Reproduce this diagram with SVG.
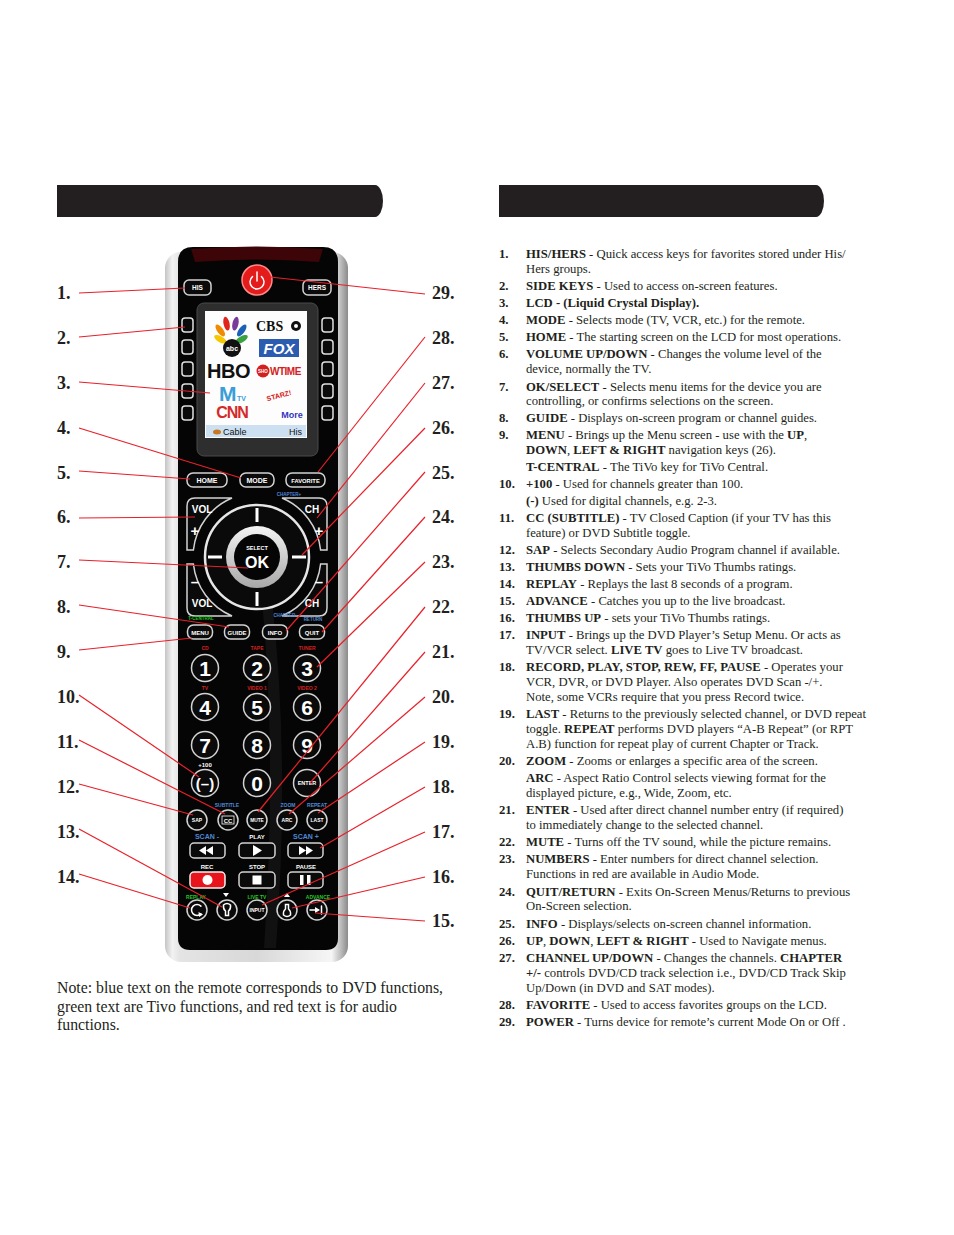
<svg xmlns="http://www.w3.org/2000/svg" width="954" height="1235" viewBox="0 0 954 1235">
<style>
.btn{fill:#0a0a0a;stroke:#d2d2d2;stroke-width:1.5}
.bt{font-family:"Liberation Sans",Arial,sans-serif;font-weight:bold;fill:#fff;text-anchor:middle}
.num{font-size:21px}
.sk{fill:#0a0a0a;stroke:#e0e0e0;stroke-width:1.5}
.lr{fill:#d42020}
.lb{fill:#5088d6}
.lg{fill:#22c822}
.co{stroke:#e8202a;stroke-width:1.2;fill:none}
.cn{font-family:"Liberation Serif","Times New Roman",serif;font-weight:bold;font-size:18px;fill:#231f20}
.li{font-family:"Liberation Serif","Times New Roman",serif;font-size:12.7px;fill:#231f20}
.b{font-weight:bold}
.nt{font-family:"Liberation Serif","Times New Roman",serif;font-size:15.8px;fill:#231f20}
.ico{fill:none;stroke:#fff;stroke-width:1.5;stroke-linecap:round}
</style>
<defs>
<linearGradient id="silver" x1="0" y1="0" x2="1" y2="0">
<stop offset="0" stop-color="#c4c4c4"/>
<stop offset="0.04" stop-color="#f2f2f2"/>
<stop offset="0.08" stop-color="#e4e4e4"/>
<stop offset="0.5" stop-color="#d8d8d8"/>
<stop offset="0.91" stop-color="#f6f6f6"/>
<stop offset="0.96" stop-color="#bdbdbd"/>
<stop offset="1" stop-color="#8a8a8a"/>
</linearGradient>
<linearGradient id="okring" x1="0" y1="0" x2="0" y2="1">
<stop offset="0" stop-color="#f4f4f4"/>
<stop offset="1" stop-color="#a8a8a8"/>
</linearGradient>
</defs>
<rect width="954" height="1235" fill="#fff"/>

<g id="headers">
<path d="M57,185 H375 A8,16 0 0 1 375,217 H57 Z" fill="#231f20"/>
<path d="M499,185 H816 A8,16 0 0 1 816,217 H499 Z" fill="#231f20"/>
</g>

<g id="remote">
<rect x="165" y="252" width="183" height="710" rx="16" fill="url(#silver)"/>
<path d="M178,262 Q178,247 193,247 L323,247 Q338,247 338,262 L338,938 Q338,950 326,950 L190,950 Q178,950 178,938 Z" fill="#050505"/>
<path d="M191,249 Q257,244 323,249 L319,262 Q257,257 195,262 Z" fill="#3d0508"/>
<path d="M262,600 Q277,760 264,948 L276,948 Q290,760 272,600 Z" fill="#fff" opacity="0.05"/>

<g id="btn-power">
<circle cx="257" cy="280" r="15" fill="#e41b1b" stroke="#ff8a8a" stroke-width="1.5"/>
<path d="M252.5,276.6 A7,7 0 1 0 261.5,276.6" class="ico" stroke-width="2"/>
<path d="M257,272 V281" class="ico" stroke-width="2"/>
</g>
<g id="btn-his"><rect class="btn" x="184" y="280" width="27" height="15" rx="5"/><text class="bt" x="197.5" y="290" font-size="6.5">HIS</text></g>
<g id="btn-hers"><rect class="btn" x="303" y="280" width="28" height="15" rx="5"/><text class="bt" x="317" y="290" font-size="6.5">HERS</text></g>

<g id="side-keys">
<rect class="sk" x="182" y="318" width="11" height="14" rx="3"/>
<rect class="sk" x="182" y="340" width="11" height="14" rx="3"/>
<rect class="sk" x="182" y="362" width="11" height="14" rx="3"/>
<rect class="sk" x="182" y="384" width="11" height="14" rx="3"/>
<rect class="sk" x="182" y="406" width="11" height="14" rx="3"/>
<rect class="sk" x="322" y="318" width="11" height="14" rx="3"/>
<rect class="sk" x="322" y="340" width="11" height="14" rx="3"/>
<rect class="sk" x="322" y="362" width="11" height="14" rx="3"/>
<rect class="sk" x="322" y="384" width="11" height="14" rx="3"/>
<rect class="sk" x="322" y="406" width="11" height="14" rx="3"/>
</g>

<g id="lcd">
<rect x="197" y="303" width="121" height="153" rx="7" fill="#2e2e2e" stroke="#4a4a4a"/>
<rect x="205" y="311" width="102" height="127" fill="#fdfdfd"/>
<g id="logo-nbc">
<ellipse cx="222" cy="328" rx="3" ry="7" fill="#f6c800" transform="rotate(-60 231 335)"/>
<ellipse cx="225" cy="325" rx="3" ry="7" fill="#f08a00" transform="rotate(-36 231 335)"/>
<ellipse cx="229" cy="323" rx="3" ry="7" fill="#e0261c" transform="rotate(-12 231 335)"/>
<ellipse cx="233" cy="323" rx="3" ry="7" fill="#7a3a9a" transform="rotate(12 231 335)"/>
<ellipse cx="237" cy="325" rx="3" ry="7" fill="#1a5fb8" transform="rotate(36 231 335)"/>
<ellipse cx="240" cy="328" rx="3" ry="7" fill="#3aa040" transform="rotate(60 231 335)"/>
</g>
<text x="256" y="331" font-family="Liberation Serif,serif" font-weight="bold" font-size="14" fill="#111">CBS</text>
<circle cx="296" cy="326" r="5" fill="#111"/><circle cx="296" cy="326" r="2" fill="#fff"/>
<circle cx="232" cy="348" r="9" fill="#111"/>
<text class="bt" x="232" y="351" font-size="7">abc</text>
<rect x="259" y="339" width="40" height="18" fill="#2c5cb0"/>
<text x="279" y="354" font-family="Liberation Sans,sans-serif" font-weight="bold" font-style="italic" font-size="15" fill="#fff" text-anchor="middle">FOX</text>
<text x="207" y="378" font-family="Liberation Sans,sans-serif" font-weight="bold" font-size="20" fill="#111" letter-spacing="-0.5">HBO</text>
<circle cx="263" cy="371" r="6.5" fill="#d42020"/>
<text class="bt" x="263" y="373" font-size="4.5">SHO</text>
<text x="270" y="375" font-family="Liberation Sans,sans-serif" font-weight="bold" font-size="10" fill="#d42020" letter-spacing="-0.5">WTIME</text>
<text x="219" y="401" font-family="Liberation Sans,sans-serif" font-weight="bold" font-size="21" fill="#3a9ed8">M</text>
<text x="237" y="401" font-family="Liberation Sans,sans-serif" font-weight="bold" font-size="7" fill="#3a9ed8">TV</text>
<text x="279" y="398" font-family="Liberation Sans,sans-serif" font-weight="bold" font-size="7" fill="#d42020" text-anchor="middle" transform="rotate(-15 279 396)">STARZ!</text>
<text x="232" y="418" font-family="Liberation Sans,sans-serif" font-weight="bold" font-size="16" fill="#d42a2a" text-anchor="middle" letter-spacing="-1">CNN</text>
<text x="292" y="418" font-family="Liberation Sans,sans-serif" font-weight="bold" font-size="9" fill="#3434c0" text-anchor="middle">More</text>
<rect x="206" y="425" width="100" height="12" fill="#cde0f2"/>
<ellipse cx="217" cy="432" rx="4" ry="2.5" fill="#c87820"/>
<text x="223" y="435" font-family="Liberation Sans,sans-serif" font-size="9" fill="#111">Cable</text>
<text x="289" y="435" font-family="Liberation Sans,sans-serif" font-size="9" fill="#111">His</text>
</g>

<g id="btn-home"><rect class="btn" x="187" y="473" width="40" height="14" rx="6"/><text class="bt" x="207" y="483" font-size="7">HOME</text></g>
<g id="btn-mode"><rect class="btn" x="240" y="473" width="34" height="14" rx="6"/><text class="bt" x="257" y="483" font-size="7">MODE</text></g>
<g id="btn-favorite"><rect class="btn" x="286" y="473" width="39" height="14" rx="6"/><text class="bt" x="305.5" y="482.5" font-size="5.8">FAVORITE</text></g>

<text class="bt lb" x="289" y="496" font-size="4.5">CHAPTER+</text>

<g id="vol-ch">
<path class="btn" d="M187,550 L187,506 Q187,498 195,498 L232,498 A64,64 0 0 0 193.4,550 Z"/>
<path class="btn" d="M187,564 L187,608 Q187,616 195,616 L232,616 A64,64 0 0 1 193.4,564 Z"/>
<path class="btn" d="M327,550 L327,506 Q327,498 319,498 L282,498 A64,64 0 0 1 320.6,550 Z"/>
<path class="btn" d="M327,564 L327,608 Q327,616 319,616 L282,616 A64,64 0 0 0 320.6,564 Z"/>
<text class="bt" x="202" y="513" font-size="10">VOL</text>
<text class="bt" x="195" y="536" font-size="15">+</text>
<text class="bt" x="195" y="587" font-size="15">–</text>
<text class="bt" x="202" y="607" font-size="10">VOL</text>
<text class="bt" x="312" y="513" font-size="10">CH</text>
<text class="bt" x="319" y="536" font-size="15">+</text>
<text class="bt" x="319" y="587" font-size="15">–</text>
<text class="bt" x="312" y="607" font-size="10">CH</text>
</g>

<g id="dpad">
<circle cx="257" cy="557" r="52" fill="#0a0a0a" stroke="#e6e6e6" stroke-width="2.5"/>
<path d="M257,508 V522 M257,592 V606 M208,557 H222 M292,557 H306" stroke="#fff" stroke-width="3"/>
<circle cx="257" cy="557" r="31" fill="url(#okring)"/>
<circle cx="257" cy="557" r="23" fill="#050505"/>
<text class="bt" x="257" y="550" font-size="5.5">SELECT</text>
<text class="bt" x="257" y="568" font-size="16">OK</text>
</g>

<text class="bt lg" x="201" y="620" font-size="4.5">T-CENTRAL</text>
<text class="bt lb" x="285" y="617" font-size="4.5">CHAPTER-</text>
<text class="bt lb" x="313" y="621" font-size="4.5">RETURN</text>
<g id="btn-menu"><rect class="btn" x="187.5" y="625" width="25" height="14" rx="6"/><text class="bt" x="200" y="634.5" font-size="6">MENU</text></g>
<g id="btn-guide"><rect class="btn" x="224.5" y="625" width="25" height="14" rx="6"/><text class="bt" x="237" y="634.5" font-size="6">GUIDE</text></g>
<g id="btn-info"><rect class="btn" x="262.5" y="625" width="25" height="14" rx="6"/><text class="bt" x="275" y="634.5" font-size="6">INFO</text></g>
<g id="btn-quit"><rect class="btn" x="299.5" y="625" width="25" height="14" rx="6"/><text class="bt" x="312" y="634.5" font-size="6">QUIT</text></g>

<g id="numbers">
<text class="bt lr" x="205" y="650" font-size="5">CD</text>
<text class="bt lr" x="257" y="650" font-size="5">TAPE</text>
<text class="bt lr" x="307" y="650" font-size="5">TUNER</text>
<circle class="btn" cx="205" cy="668" r="13.5"/><text class="bt num" x="205" y="675.5">1</text>
<circle class="btn" cx="257" cy="668" r="13.5"/><text class="bt num" x="257" y="675.5">2</text>
<circle class="btn" cx="307" cy="668" r="13.5"/><text class="bt num" x="307" y="675.5">3</text>
<text class="bt lr" x="205" y="690" font-size="5">TV</text>
<text class="bt lr" x="257" y="690" font-size="5">VIDEO 1</text>
<text class="bt lr" x="307" y="690" font-size="5">VIDEO 2</text>
<circle class="btn" cx="205" cy="707" r="13.5"/><text class="bt num" x="205" y="714.5">4</text>
<circle class="btn" cx="257" cy="707" r="13.5"/><text class="bt num" x="257" y="714.5">5</text>
<circle class="btn" cx="307" cy="707" r="13.5"/><text class="bt num" x="307" y="714.5">6</text>
<circle class="btn" cx="205" cy="745" r="13.5"/><text class="bt num" x="205" y="752.5">7</text>
<circle class="btn" cx="257" cy="745" r="13.5"/><text class="bt num" x="257" y="752.5">8</text>
<circle class="btn" cx="307" cy="745" r="13.5"/><text class="bt num" x="307" y="752.5">9</text>
<text class="bt" x="205" y="767" font-size="6">+100</text>
<circle class="btn" cx="205" cy="783" r="13.5"/><text class="bt" x="205" y="789" font-size="15">(–)</text>
<circle class="btn" cx="257" cy="783" r="13.5"/><text class="bt num" x="257" y="790.5">0</text>
<circle class="btn" cx="307" cy="783" r="13.5"/><text class="bt" x="307" y="785" font-size="5.5">ENTER</text>
</g>

<text class="bt lb" x="227" y="807" font-size="5">SUBTITLE</text>
<text class="bt lb" x="288" y="807" font-size="5">ZOOM</text>
<text class="bt lb" x="317" y="807" font-size="5">REPEAT</text>
<g id="btn-sap"><circle class="btn" cx="197" cy="820" r="10"/><text class="bt" x="197" y="822" font-size="5">SAP</text></g>
<g id="btn-cc"><circle class="btn" cx="228" cy="820" r="10"/><rect x="222" y="816" width="12" height="8" fill="none" stroke="#fff" stroke-width="0.8"/><text class="bt" x="228" y="822.5" font-size="6">CC</text></g>
<g id="btn-mute"><circle class="btn" cx="257" cy="820" r="10"/><text class="bt" x="257" y="822" font-size="4.8">MUTE</text></g>
<g id="btn-arc"><circle class="btn" cx="287" cy="820" r="10"/><text class="bt" x="287" y="822" font-size="5">ARC</text></g>
<g id="btn-last"><circle class="btn" cx="317" cy="820" r="10"/><text class="bt" x="317" y="822" font-size="5">LAST</text></g>

<g id="transport">
<text class="bt lb" x="207" y="839" font-size="7">SCAN -</text>
<text class="bt" x="257" y="839" font-size="6">PLAY</text>
<text class="bt lb" x="306" y="839" font-size="7">SCAN +</text>
<rect class="btn" x="190" y="843" width="35" height="15" rx="4"/>
<path d="M206,846 L199,850.5 L206,855 Z M213,846 L206,850.5 L213,855 Z" fill="#fff"/>
<rect class="btn" x="239" y="843" width="36" height="15" rx="4"/>
<path d="M253,845 L262,850.5 L253,856 Z" fill="#fff"/>
<rect class="btn" x="288" y="843" width="35" height="15" rx="4"/>
<path d="M299,846 L306,850.5 L299,855 Z M306,846 L313,850.5 L306,855 Z" fill="#fff"/>
<text class="bt" x="207" y="869" font-size="6">REC</text>
<text class="bt" x="257" y="869" font-size="6">STOP</text>
<text class="bt" x="306" y="869" font-size="6">PAUSE</text>
<rect x="190" y="872" width="35" height="16" rx="4" fill="#e8141c" stroke="#f2f2f2" stroke-width="1.5"/>
<circle cx="207.5" cy="880" r="5" fill="#fff"/>
<rect class="btn" x="239" y="872" width="36" height="16" rx="4"/>
<rect x="252.5" y="875.5" width="9" height="9" fill="#fff"/>
<rect class="btn" x="288" y="872" width="35" height="16" rx="4"/>
<rect x="300" y="875" width="3.5" height="10" fill="#fff"/><rect x="307" y="875" width="3.5" height="10" fill="#fff"/>
</g>

<g id="bottom-row">
<text class="bt lg" x="196" y="899" font-size="5">REPLAY</text>
<path d="M223,893 H229 L226,897 Z" fill="#fff"/>
<text class="bt lg" x="257" y="899" font-size="5">LIVE TV</text>
<path d="M284,897 H290 L287,893 Z" fill="#fff"/>
<text class="bt lg" x="318" y="899" font-size="5">ADVANCE</text>
<circle class="btn" cx="197" cy="910" r="10"/>
<path class="ico" d="M200.9,906.1 A5.5,5.5 0 1 0 200.9,913.9"/>
<path d="M198.5,912 L203,914.5 L199,917 Z" fill="#fff"/>
<circle class="btn" cx="227" cy="910" r="10"/>
<path class="ico" d="M223.5,905 Q227,902 230.5,905 Q231,909 228.5,911 L228.5,915.5 L225.5,915.5 L225.5,911 Q223,909 223.5,905 Z"/>
<circle class="btn" cx="257" cy="910" r="10"/>
<text class="bt" x="257" y="912" font-size="5">INPUT</text>
<circle class="btn" cx="287" cy="910" r="10"/>
<path class="ico" d="M283.5,915 Q287,918 290.5,915 Q291,911 288.5,909 L288.5,904.5 L285.5,904.5 L285.5,909 Q283,911 283.5,915 Z"/>
<circle class="btn" cx="317" cy="910" r="10"/>
<path class="ico" d="M310,910 H318 M321.5,906 V914"/>
<path d="M315,907 L320,910 L315,913 Z" fill="#fff"/>
</g>
</g>

<g id="connectors">
<line class="co" x1="79" y1="293" x2="185" y2="288"/>
<line class="co" x1="79" y1="337" x2="185" y2="327"/>
<line class="co" x1="79" y1="382" x2="210" y2="393"/>
<line class="co" x1="79" y1="428" x2="241" y2="478"/>
<line class="co" x1="79" y1="471" x2="190" y2="479"/>
<line class="co" x1="79" y1="518" x2="195" y2="517"/>
<line class="co" x1="79" y1="560" x2="248" y2="568"/>
<line class="co" x1="79" y1="605" x2="229" y2="627"/>
<line class="co" x1="79" y1="650" x2="192" y2="638"/>
<line class="co" x1="79" y1="695" x2="199" y2="777"/>
<line class="co" x1="79" y1="740" x2="225" y2="814"/>
<line class="co" x1="79" y1="784" x2="193" y2="815"/>
<line class="co" x1="79" y1="829" x2="222" y2="907"/>
<line class="co" x1="79" y1="874" x2="190" y2="908"/>
<line class="co" x1="425" y1="294" x2="270" y2="277"/>
<line class="co" x1="425" y1="337" x2="318" y2="472"/>
<line class="co" x1="425" y1="383" x2="317" y2="518"/>
<line class="co" x1="425" y1="428" x2="302" y2="555"/>
<line class="co" x1="425" y1="472" x2="286" y2="631"/>
<line class="co" x1="425" y1="517" x2="322" y2="632"/>
<line class="co" x1="425" y1="562" x2="317" y2="667"/>
<line class="co" x1="425" y1="607" x2="258" y2="812"/>
<line class="co" x1="425" y1="652" x2="310" y2="783"/>
<line class="co" x1="425" y1="697" x2="289" y2="814"/>
<line class="co" x1="425" y1="742" x2="318" y2="813"/>
<line class="co" x1="425" y1="787" x2="320" y2="848"/>
<line class="co" x1="425" y1="832" x2="262" y2="905"/>
<line class="co" x1="425" y1="877" x2="292" y2="908"/>
<line class="co" x1="425" y1="921" x2="315" y2="913"/>
</g>

<g id="labels-left">
<text class="cn" x="57" y="299">1.</text>
<text class="cn" x="57" y="344">2.</text>
<text class="cn" x="57" y="389">3.</text>
<text class="cn" x="57" y="434">4.</text>
<text class="cn" x="57" y="479">5.</text>
<text class="cn" x="57" y="523">6.</text>
<text class="cn" x="57" y="568">7.</text>
<text class="cn" x="57" y="613">8.</text>
<text class="cn" x="57" y="658">9.</text>
<text class="cn" x="57" y="703">10.</text>
<text class="cn" x="57" y="748">11.</text>
<text class="cn" x="57" y="793">12.</text>
<text class="cn" x="57" y="838">13.</text>
<text class="cn" x="57" y="883">14.</text>
</g>
<g id="labels-right">
<text class="cn" x="432" y="299">29.</text>
<text class="cn" x="432" y="344">28.</text>
<text class="cn" x="432" y="389">27.</text>
<text class="cn" x="432" y="434">26.</text>
<text class="cn" x="432" y="479">25.</text>
<text class="cn" x="432" y="523">24.</text>
<text class="cn" x="432" y="568">23.</text>
<text class="cn" x="432" y="613">22.</text>
<text class="cn" x="432" y="658">21.</text>
<text class="cn" x="432" y="703">20.</text>
<text class="cn" x="432" y="748">19.</text>
<text class="cn" x="432" y="793">18.</text>
<text class="cn" x="432" y="838">17.</text>
<text class="cn" x="432" y="883">16.</text>
<text class="cn" x="432" y="927">15.</text>
</g>

<g id="list" class="li">
<text class="li b" x="499" y="258">1.</text>
<text class="li" x="526" y="258"><tspan class="b">HIS/HERS</tspan> - Quick access keys for favorites stored under His/</text>
<text class="li" x="526" y="273">Hers groups.</text>
<text class="li b" x="499" y="290">2.</text>
<text class="li" x="526" y="290"><tspan class="b">SIDE KEYS</tspan> - Used to access on-screen features.</text>
<text class="li b" x="499" y="307">3.</text>
<text class="li b" x="526" y="307">LCD - (Liquid Crystal Display).</text>
<text class="li b" x="499" y="324">4.</text>
<text class="li" x="526" y="324"><tspan class="b">MODE</tspan> - Selects mode (TV, VCR, etc.) for the remote.</text>
<text class="li b" x="499" y="341">5.</text>
<text class="li" x="526" y="341"><tspan class="b">HOME</tspan> - The starting screen on the LCD for most operations.</text>
<text class="li b" x="499" y="358">6.</text>
<text class="li" x="526" y="358"><tspan class="b">VOLUME UP/DOWN</tspan> - Changes the volume level of the</text>
<text class="li" x="526" y="373">device, normally the TV.</text>
<text class="li b" x="499" y="391">7.</text>
<text class="li" x="526" y="391"><tspan class="b">OK/SELECT</tspan> - Selects menu items for the device you are</text>
<text class="li" x="526" y="405">controlling, or confirms selections on the screen.</text>
<text class="li b" x="499" y="422">8.</text>
<text class="li" x="526" y="422"><tspan class="b">GUIDE</tspan> - Displays on-screen program or channel guides.</text>
<text class="li b" x="499" y="439">9.</text>
<text class="li" x="526" y="439"><tspan class="b">MENU</tspan> - Brings up the Menu screen - use with the <tspan class="b">UP</tspan>,</text>
<text class="li" x="526" y="454"><tspan class="b">DOWN</tspan>, <tspan class="b">LEFT &amp; RIGHT</tspan> navigation keys (26).</text>
<text class="li" x="526" y="471"><tspan class="b">T-CENTRAL</tspan> - The TiVo key for TiVo Central.</text>
<text class="li b" x="499" y="488">10.</text>
<text class="li" x="526" y="488"><tspan class="b">+100</tspan> - Used for channels greater than 100.</text>
<text class="li" x="526" y="505"><tspan class="b">(-)</tspan> Used for digital channels, e.g. 2-3.</text>
<text class="li b" x="499" y="522">11.</text>
<text class="li" x="526" y="522"><tspan class="b">CC (SUBTITLE)</tspan> - TV Closed Caption (if your TV has this</text>
<text class="li" x="526" y="537">feature) or DVD Subtitle toggle.</text>
<text class="li b" x="499" y="554">12.</text>
<text class="li" x="526" y="554"><tspan class="b">SAP</tspan> - Selects Secondary Audio Program channel if available.</text>
<text class="li b" x="499" y="571">13.</text>
<text class="li" x="526" y="571"><tspan class="b">THUMBS DOWN</tspan> - Sets your TiVo Thumbs ratings.</text>
<text class="li b" x="499" y="588">14.</text>
<text class="li" x="526" y="588"><tspan class="b">REPLAY</tspan> - Replays the last 8 seconds of a program.</text>
<text class="li b" x="499" y="605">15.</text>
<text class="li" x="526" y="605"><tspan class="b">ADVANCE</tspan> - Catches you up to the live broadcast.</text>
<text class="li b" x="499" y="622">16.</text>
<text class="li" x="526" y="622"><tspan class="b">THUMBS UP</tspan> - sets your TiVo Thumbs ratings.</text>
<text class="li b" x="499" y="639">17.</text>
<text class="li" x="526" y="639"><tspan class="b">INPUT</tspan> - Brings up the DVD Player’s Setup Menu. Or acts as</text>
<text class="li" x="526" y="654">TV/VCR select. <tspan class="b">LIVE TV</tspan> goes to Live TV broadcast.</text>
<text class="li b" x="499" y="671">18.</text>
<text class="li" x="526" y="671"><tspan class="b">RECORD, PLAY, STOP, REW, FF, PAUSE</tspan> - Operates your</text>
<text class="li" x="526" y="686">VCR, DVR, or DVD Player. Also operates DVD Scan -/+.</text>
<text class="li" x="526" y="701">Note, some VCRs require that you press Record twice.</text>
<text class="li b" x="499" y="718">19.</text>
<text class="li" x="526" y="718"><tspan class="b">LAST</tspan> - Returns to the previously selected channel, or DVD repeat</text>
<text class="li" x="526" y="733">toggle. <tspan class="b">REPEAT</tspan> performs DVD players “A-B Repeat” (or RPT</text>
<text class="li" x="526" y="748">A.B) function for repeat play of current Chapter or Track.</text>
<text class="li b" x="499" y="765">20.</text>
<text class="li" x="526" y="765"><tspan class="b">ZOOM</tspan> - Zooms or enlarges a specific area of the screen.</text>
<text class="li" x="526" y="782"><tspan class="b">ARC</tspan> - Aspect Ratio Control selects viewing format for the</text>
<text class="li" x="526" y="797">displayed picture, e.g., Wide, Zoom, etc.</text>
<text class="li b" x="499" y="814">21.</text>
<text class="li" x="526" y="814"><tspan class="b">ENTER</tspan> - Used after direct channel number entry (if required)</text>
<text class="li" x="526" y="829">to immediately change to the selected channel.</text>
<text class="li b" x="499" y="846">22.</text>
<text class="li" x="526" y="846"><tspan class="b">MUTE</tspan> - Turns off the TV sound, while the picture remains.</text>
<text class="li b" x="499" y="863">23.</text>
<text class="li" x="526" y="863"><tspan class="b">NUMBERS</tspan> - Enter numbers for direct channel selection.</text>
<text class="li" x="526" y="878">Functions in red are available in Audio Mode.</text>
<text class="li b" x="499" y="896">24.</text>
<text class="li" x="526" y="896"><tspan class="b">QUIT/RETURN</tspan> - Exits On-Screen Menus/Returns to previous</text>
<text class="li" x="526" y="910">On-Screen selection.</text>
<text class="li b" x="499" y="928">25.</text>
<text class="li" x="526" y="928"><tspan class="b">INFO</tspan> - Displays/selects on-screen channel information.</text>
<text class="li b" x="499" y="945">26.</text>
<text class="li" x="526" y="945"><tspan class="b">UP</tspan>, <tspan class="b">DOWN</tspan>, <tspan class="b">LEFT &amp; RIGHT</tspan> - Used to Navigate menus.</text>
<text class="li b" x="499" y="962">27.</text>
<text class="li" x="526" y="962"><tspan class="b">CHANNEL UP/DOWN</tspan> - Changes the channels. <tspan class="b">CHAPTER</tspan></text>
<text class="li" x="526" y="977"><tspan class="b">+/-</tspan> controls DVD/CD track selection i.e., DVD/CD Track Skip</text>
<text class="li" x="526" y="992">Up/Down (in DVD and SAT modes).</text>
<text class="li b" x="499" y="1009">28.</text>
<text class="li" x="526" y="1009"><tspan class="b">FAVORITE</tspan> - Used to access favorites groups on the LCD.</text>
<text class="li b" x="499" y="1026">29.</text>
<text class="li" x="526" y="1026"><tspan class="b">POWER</tspan> - Turns device for remote’s current Mode On or Off .</text>
</g>

<g id="note">
<text class="nt" x="57" y="993">Note: blue text on the remote corresponds to DVD functions,</text>
<text class="nt" x="57" y="1012">green text are Tivo functions, and red text is for audio</text>
<text class="nt" x="57" y="1030">functions.</text>
</g>
</svg>
